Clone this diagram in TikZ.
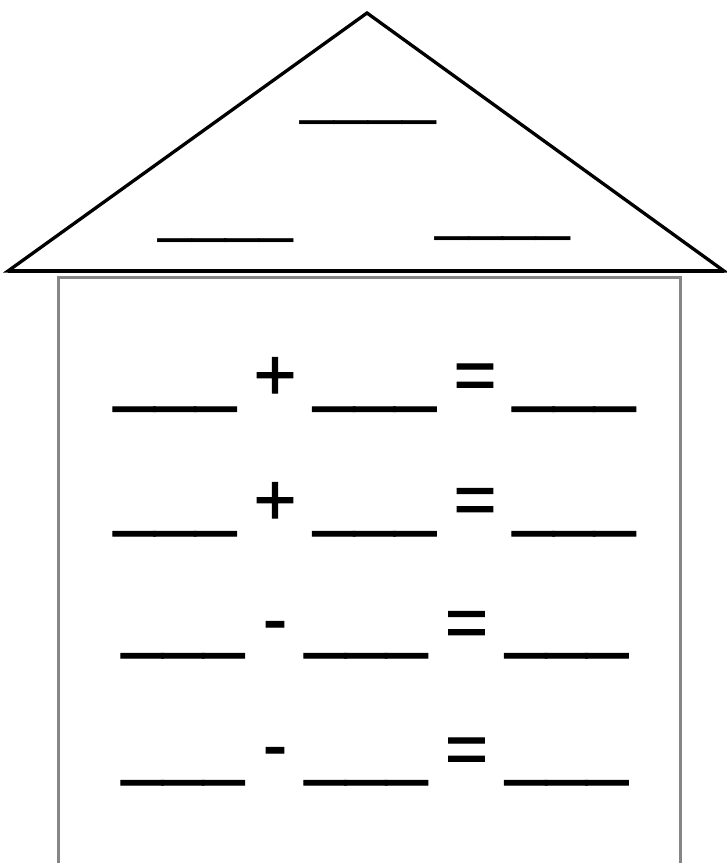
\documentclass[tikz,border=0pt]{standalone}
\usepackage{fontspec}
\setmainfont{Liberation Sans}
\newfontfamily\rowfont[FakeBold=1.5]{Liberation Sans}
\begin{document}
\begin{tikzpicture}[x=1pt,y=-1pt]
\useasboundingbox (0,0) rectangle (727,863);
\tikzset{
  rowtext/.style={font=\rowfont\fontsize{73}{80}\selectfont, anchor=base, inner sep=0pt},
  rooftext/.style={font=\fontsize{60.7}{66}\selectfont, anchor=base, inner sep=0pt},
  roofline/.style={line width=3.3, line join=miter},
  baseline/.style={line width=4},
  wallline/.style={draw=gray!95, line width=2.8},
}
% roof
\coordinate (apex) at (367,13);
\coordinate (bl) at (8,271);
\coordinate (br) at (724,271);
\draw[roofline] (bl) -- (apex) -- (br) -- cycle;
\draw[baseline] (bl) -- (br);
% wall
\coordinate (wbl) at (58.5,868);
\coordinate (wtl) at (58.5,277.5);
\coordinate (wtr) at (680.3,277.5);
\coordinate (wbr) at (680.3,868);
\draw[wallline] (wbl) -- (wtl) -- (wtr) -- (wbr);
% roof blanks
\node[rooftext] (rt) at (368.5,112.2) {\_\_\_\_};
\node[rooftext] (rl) at (225.8,230.2) {\_\_\_\_};
\node[rooftext] (rr) at (503,228.4) {\_\_\_\_};
% row 1
\node[rowtext] (r1a) at (175,397.1) {\_\_\_};
\node[rowtext] (r1p) at (275,399.5) {+};
\node[rowtext] (r1b) at (374.5,397.1) {\_\_\_};
\node[rowtext] (r1e) at (475,399.7) {=};
\node[rowtext] (r1c) at (574,397.1) {\_\_\_};
% row 2
\node[rowtext] (r2a) at (175,521.6) {\_\_\_};
\node[rowtext] (r2p) at (275,524.5) {+};
\node[rowtext] (r2b) at (374.5,521.6) {\_\_\_};
\node[rowtext] (r2e) at (475,524.2) {=};
\node[rowtext] (r2c) at (574,521.6) {\_\_\_};
% row 3
\node[rowtext] (r3a) at (183,643.6) {\_\_\_};
\node[rowtext] (r3m) at (275,643.7) {-};
\node[rowtext] (r3b) at (366,643.6) {\_\_\_};
\node[rowtext] (r3e) at (466.5,647.2) {=};
\node[rowtext] (r3c) at (566.5,643.6) {\_\_\_};
% row 4
\node[rowtext] (r4a) at (183,770.6) {\_\_\_};
\node[rowtext] (r4m) at (275,769.7) {-};
\node[rowtext] (r4b) at (366,770.6) {\_\_\_};
\node[rowtext] (r4e) at (466.5,773.7) {=};
\node[rowtext] (r4c) at (566.5,770.6) {\_\_\_};
\end{tikzpicture}
\end{document}
